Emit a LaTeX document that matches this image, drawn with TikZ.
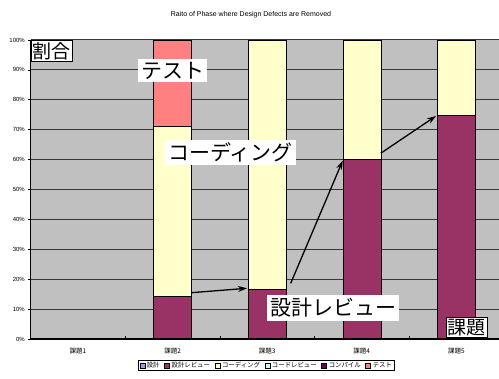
\documentclass[tikz,border=0pt]{standalone}
\usepackage{fontspec}
\setmainfont{Liberation Sans}
\newfontfamily\jpfont{Noto Sans CJK JP}
\usepackage{tikz}
\usetikzlibrary{positioning,arrows.meta,fit}

\definecolor{plotgray}{HTML}{C0C0C0}
\definecolor{gridgray}{HTML}{383838}
\definecolor{design}{HTML}{9999FF}
\definecolor{designrev}{HTML}{993366}
\definecolor{coding}{HTML}{FFFFCC}
\definecolor{coderev}{HTML}{CCFFFF}
\definecolor{compile}{HTML}{660066}
\definecolor{testred}{HTML}{FF8080}

\tikzset{
    bar/.style={line width=0.6pt},
    gridline/.style={gridgray, line width=1pt},
    bigtext/.style={font=\jpfont\fontsize{21}{21}\selectfont, fill=white, inner sep=3pt},
    boxtext/.style={font=\jpfont\fontsize{19}{19}\selectfont, fill=white, draw, line width=0.6pt, inner sep=1.5pt},
    ticklabel/.style={font=\fontsize{6}{6}\selectfont, anchor=east, inner sep=1pt},
    catlabel/.style={font=\jpfont\fontsize{6.5}{7}\selectfont, inner sep=1pt},
    legkey/.style={draw, line width=0.4pt, minimum size=5pt, inner sep=0pt},
    legtext/.style={font=\jpfont\fontsize{6.4}{6.4}\selectfont, inner sep=0.5pt},
    callout/.style={draw, line width=1.3pt, -{Stealth[length=9pt,width=6pt]}}
}

\begin{document}
\begin{tikzpicture}[x=1pt,y=-1pt]

    \useasboundingbox (0,0) rectangle (499,379);
    \pgfmathsetmacro{\ybase}{339}
    \pgfmathsetmacro{\ystep}{2.99}
    \pgfmathsetmacro{\xstep}{94.6}
    \pgfmathsetmacro{\xorig}{30.7}

    % title
    \node[font=\fontsize{7}{7}\selectfont] (title) at (251,15) {Raito of Phase where Design Defects are Removed};

    % plot area
    \begin{scope}
        \clip (0,0) rectangle (499,379);
        \path[fill=plotgray] (\xorig,40) rectangle (510,\ybase);
        \foreach \p in {10,20,...,100} {
            \pgfmathsetmacro{\yy}{\ybase-\ystep*\p}
            \path[draw, gridline] (\xorig,\yy) -- (510,\yy);
        }

        % stacked bars
        \foreach \i/\m/\c in {2/14.4/71.2, 3/16.6/100, 4/60.1/100, 5/74.9/100} {
            \pgfmathsetmacro{\xl}{\xorig+\xstep*(\i-0.5)-19}
            \pgfmathsetmacro{\xr}{\xl+38}
            \pgfmathsetmacro{\ym}{\ybase-\ystep*\m}
            \pgfmathsetmacro{\yc}{\ybase-\ystep*\c}
            \path[draw, bar, fill=designrev] (\xl,\ybase) rectangle (\xr,\ym);
            \path[draw, bar, fill=coding] (\xl,\ym) rectangle (\xr,\yc);
        }
        \path[draw, bar, fill=testred] (153.3,126.1) rectangle (191.3,40);

        % axes and ticks
        \path[draw, line width=1.1pt] (\xorig,40) -- (\xorig,\ybase) -- (510,\ybase);
        \foreach \i in {1,...,4} {
            \pgfmathsetmacro{\xx}{\xorig+\xstep*\i}
            \path[draw, line width=0.6pt] (\xx,\ybase) -- ++(0,-3);
        }
    \end{scope}

    % y axis labels
    \foreach \p in {0,10,...,100} {
        \pgfmathsetmacro{\yy}{\ybase-\ystep*\p}
        \path[draw, line width=0.6pt] (\xorig,\yy) -- ++(-3,0);
        \node[ticklabel] (y\p) at (26,\yy) {\p\%};
    }

    % category labels
    \foreach \i in {1,...,5} {
        \pgfmathsetmacro{\xx}{\xorig+\xstep*(\i-0.5)}
        \node[catlabel] (cat\i) at (\xx,351) {課題\i};
    }

    % callout labels
    \node[boxtext, anchor=north west] (ratiolbl) at (31,40.5) {割合};
    \node[boxtext, anchor=south west] (topiclbl) at (446,337.5) {課題};
    \node[bigtext] (testlbl) at (172.5,70.5) {テスト};
    \node[bigtext] (codelbl) at (230.5,152.5) {コーディング};
    \node[bigtext] (revlbl) at (333,308) {設計レビュー};

    % arrows between review segments
    \coordinate (b2top) at (191.3,292.7);
    \coordinate (b3left) at (247,288.3);
    \coordinate (b3right) at (290.7,283.3);
    \coordinate (b4left) at (342.7,160.7);
    \coordinate (b4right) at (380.7,153.3);
    \coordinate (b5left) at (436,116);
    \path[callout] (b2top) -- (b3left);
    \path[callout] (b3right) -- (b4left);
    \path[callout] (b4right) -- (b5left);

    % legend
    \node[legkey, fill=design, anchor=west] (k1) at (139.5,365.5) {};
    \node[legtext, right=1.2pt of k1] (t1) {設計};
    \node[legkey, fill=designrev, right=4pt of t1] (k2) {};
    \node[legtext, right=1.2pt of k2] (t2) {設計レビュー};
    \node[legkey, fill=coding, right=4pt of t2] (k3) {};
    \node[legtext, right=1.2pt of k3] (t3) {コーディング};
    \node[legkey, fill=coderev, right=4pt of t3] (k4) {};
    \node[legtext, right=1.2pt of k4] (t4) {コードレビュー};
    \node[legkey, fill=compile, right=4pt of t4] (k5) {};
    \node[legtext, right=1.2pt of k5] (t5) {コンパイル};
    \node[legkey, fill=testred, right=4pt of t5] (k6) {};
    \node[legtext, right=1.2pt of k6] (t6) {テスト};
    \node[draw, line width=0.6pt, inner sep=1.5pt, fit=(k1)(t6)] (legend) {};

\end{tikzpicture}
\end{document}
